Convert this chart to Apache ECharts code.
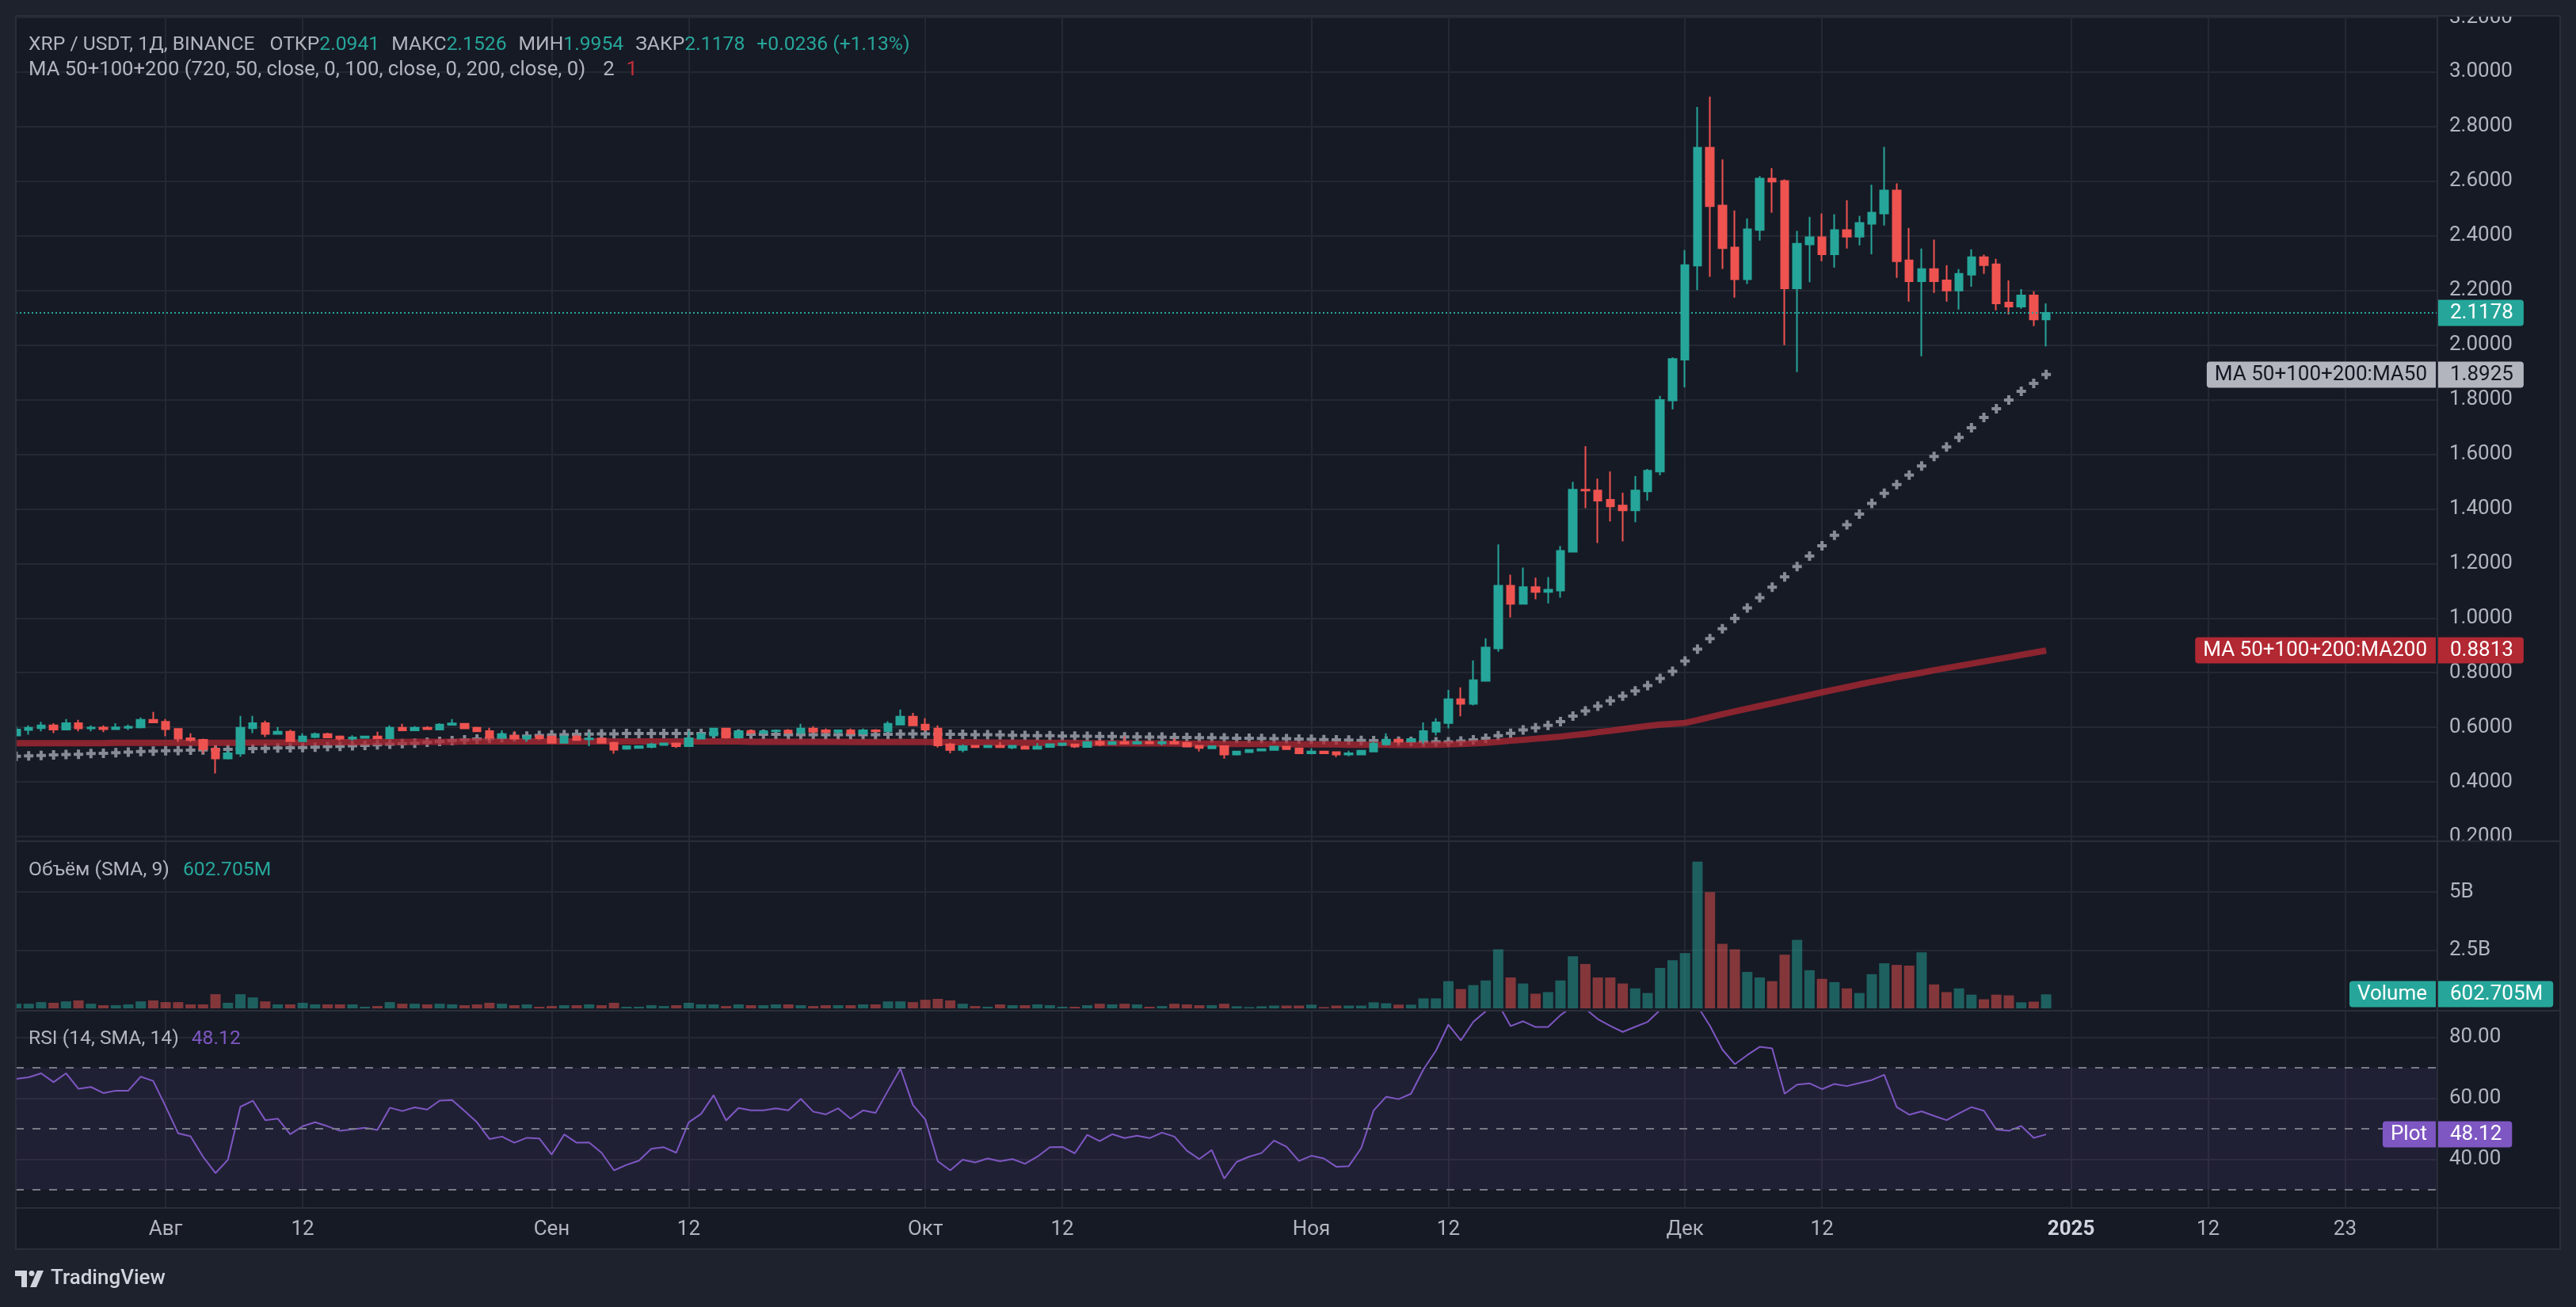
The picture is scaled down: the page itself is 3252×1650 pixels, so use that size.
<!DOCTYPE html>
<html><head><meta charset="utf-8">
<script src="https://cdn.jsdelivr.net/npm/echarts@6/dist/echarts.min.js"></script>
<style>html,body{margin:0;padding:0;background:#1e222d;overflow:hidden}#c{width:3252px;height:1650px}</style>
</head><body><div id="c"></div>
<script>
// ---------- DATA ----------
const startDate = '2024-07-20';
const dayCount = 195; // visible days: 2024-07-20 .. 2025-01-30

// daily candles [open, high, low, close]
const julCandles = [
[0.570,0.603,0.568,0.592],[0.590,0.607,0.573,0.598],[0.597,0.620,0.585,0.607],[0.607,0.615,0.579,0.592],
[0.592,0.630,0.589,0.615],[0.615,0.627,0.585,0.596],[0.596,0.607,0.585,0.599],[0.599,0.607,0.582,0.593],
[0.593,0.615,0.590,0.600],[0.598,0.610,0.590,0.602],[0.600,0.636,0.596,0.627],[0.627,0.656,0.616,0.618]];
const augCandles = [
[0.620,0.630,0.567,0.593],[0.594,0.595,0.547,0.558],[0.560,0.578,0.547,0.553],[0.554,0.558,0.505,0.520],
[0.522,0.532,0.431,0.486],[0.486,0.515,0.482,0.505],[0.504,0.642,0.492,0.598],[0.597,0.642,0.579,0.615],
[0.615,0.624,0.564,0.576],[0.576,0.601,0.574,0.584],[0.584,0.591,0.547,0.549],[0.549,0.578,0.546,0.566],
[0.564,0.581,0.560,0.575],[0.575,0.580,0.560,0.563],[0.566,0.570,0.551,0.558],[0.558,0.571,0.551,0.563],
[0.561,0.569,0.558,0.566],[0.566,0.584,0.556,0.560],[0.560,0.607,0.558,0.598],[0.598,0.613,0.587,0.589],
[0.589,0.604,0.586,0.598],[0.598,0.604,0.591,0.593],[0.592,0.615,0.590,0.610],[0.609,0.630,0.607,0.614],
[0.613,0.613,0.593,0.596],[0.598,0.602,0.582,0.585],[0.586,0.598,0.553,0.563],[0.561,0.589,0.558,0.575],
[0.570,0.586,0.557,0.558],[0.558,0.570,0.547,0.567],[0.568,0.573,0.558,0.560]];
const sepCandles = [
[0.566,0.569,0.540,0.543],[0.543,0.567,0.541,0.566],[0.566,0.572,0.552,0.553],[0.556,0.581,0.531,0.559],
[0.559,0.560,0.541,0.543],[0.543,0.547,0.503,0.518],[0.521,0.532,0.518,0.531],[0.524,0.532,0.521,0.531],
[0.528,0.543,0.523,0.537],[0.535,0.544,0.532,0.541],[0.541,0.543,0.524,0.531],[0.531,0.586,0.530,0.560],
[0.558,0.581,0.556,0.575],[0.570,0.598,0.563,0.595],[0.595,0.598,0.560,0.563],[0.563,0.589,0.560,0.586],
[0.587,0.592,0.576,0.580],[0.580,0.588,0.575,0.586],[0.586,0.590,0.580,0.588],[0.588,0.593,0.578,0.580],
[0.580,0.613,0.576,0.595],[0.595,0.604,0.579,0.584],[0.589,0.595,0.578,0.582],[0.582,0.591,0.576,0.589],
[0.589,0.595,0.574,0.577],[0.577,0.595,0.574,0.589],[0.589,0.593,0.582,0.585],[0.585,0.622,0.583,0.613],
[0.610,0.665,0.608,0.639],[0.639,0.653,0.607,0.607]];
const octCandles = [
[0.610,0.633,0.586,0.592],[0.595,0.607,0.526,0.534],[0.537,0.543,0.505,0.517],[0.517,0.537,0.508,0.531],
[0.532,0.534,0.525,0.527],[0.527,0.534,0.526,0.532],[0.532,0.546,0.526,0.527],[0.526,0.535,0.520,0.532],
[0.529,0.534,0.520,0.521],[0.521,0.542,0.520,0.529],[0.528,0.541,0.526,0.538],[0.535,0.544,0.531,0.541],
[0.537,0.539,0.524,0.529],[0.528,0.549,0.526,0.546],[0.547,0.553,0.531,0.537],[0.538,0.549,0.536,0.546],
[0.546,0.566,0.538,0.540],[0.540,0.552,0.537,0.546],[0.546,0.549,0.539,0.541],[0.541,0.551,0.534,0.546],
[0.546,0.560,0.538,0.540],[0.543,0.546,0.528,0.529],[0.532,0.535,0.511,0.524],[0.523,0.533,0.522,0.531],
[0.531,0.534,0.485,0.500],[0.500,0.514,0.497,0.511],[0.509,0.518,0.508,0.517],[0.515,0.522,0.512,0.520],
[0.517,0.530,0.516,0.529],[0.529,0.531,0.517,0.520],[0.523,0.525,0.502,0.505]];
const novCandles = [
[0.505,0.523,0.501,0.511],[0.511,0.513,0.503,0.505],[0.509,0.512,0.491,0.500],[0.500,0.514,0.494,0.505],
[0.500,0.517,0.499,0.514],[0.511,0.547,0.511,0.540],[0.537,0.578,0.537,0.555],[0.555,0.560,0.540,0.549],
[0.549,0.560,0.546,0.557],[0.555,0.618,0.540,0.586],[0.584,0.633,0.570,0.618],[0.616,0.737,0.596,0.703],
[0.703,0.746,0.640,0.686],[0.686,0.845,0.680,0.772],[0.770,0.926,0.770,0.892],[0.889,1.270,0.877,1.118],
[1.118,1.159,1.002,1.052],[1.052,1.185,1.050,1.113],[1.113,1.148,1.069,1.096],[1.096,1.150,1.054,1.104],
[1.101,1.264,1.075,1.246],[1.243,1.499,1.243,1.470],[1.470,1.630,1.403,1.467],[1.467,1.511,1.275,1.430],
[1.433,1.537,1.354,1.409],[1.412,1.459,1.281,1.395],[1.395,1.520,1.351,1.467],[1.464,1.546,1.430,1.540],
[1.537,1.814,1.523,1.799],[1.797,1.955,1.765,1.949]];
const decCandles = [
[1.947,2.348,1.845,2.293],[2.291,2.872,2.201,2.723],[2.723,2.910,2.250,2.509],[2.511,2.680,2.279,2.355],
[2.357,2.493,2.174,2.241],[2.241,2.464,2.224,2.424],[2.422,2.619,2.383,2.610],[2.610,2.648,2.485,2.599],
[2.601,2.607,2.000,2.208],[2.208,2.418,1.901,2.371],[2.369,2.470,2.230,2.395],[2.395,2.482,2.307,2.333],
[2.333,2.479,2.284,2.421],[2.421,2.531,2.354,2.397],[2.397,2.473,2.365,2.447],[2.444,2.587,2.333,2.485],
[2.482,2.726,2.438,2.566],[2.566,2.592,2.246,2.307],[2.310,2.429,2.159,2.234],[2.234,2.354,1.959,2.278],
[2.278,2.386,2.191,2.234],[2.237,2.293,2.159,2.200],[2.200,2.278,2.130,2.261],[2.258,2.351,2.214,2.322],
[2.322,2.331,2.261,2.293],[2.296,2.316,2.127,2.153],[2.156,2.237,2.112,2.141],[2.141,2.205,2.133,2.182],
[2.182,2.197,2.069,2.0942],[2.0941,2.1526,1.9954,2.1178]];

// volume, billions
const julVolume = [0.20,0.20,0.27,0.24,0.30,0.34,0.20,0.135,0.135,0.17,0.30,0.34];
const augVolume = [0.27,0.27,0.17,0.17,0.61,0.24,0.61,0.47,0.30,0.17,0.17,0.24,0.17,0.17,0.17,0.17,0.07,0.10,0.27,0.20,0.20,0.17,0.20,0.17,0.135,0.17,0.24,0.20,0.135,0.17,0.07];
const sepVolume = [0.10,0.135,0.135,0.17,0.135,0.24,0.07,0.07,0.135,0.10,0.135,0.24,0.17,0.17,0.10,0.17,0.135,0.135,0.17,0.17,0.135,0.10,0.135,0.135,0.135,0.17,0.17,0.30,0.30,0.27];
const octVolume = [0.37,0.41,0.34,0.20,0.10,0.07,0.17,0.135,0.135,0.17,0.135,0.07,0.07,0.135,0.20,0.17,0.20,0.17,0.07,0.10,0.20,0.17,0.135,0.135,0.20,0.09,0.056,0.09,0.12,0.12,0.12];
const novVolume = [0.16,0.056,0.12,0.12,0.12,0.26,0.22,0.16,0.16,0.43,0.43,1.17,0.83,1.00,1.20,2.54,1.33,1.07,0.63,0.70,1.20,2.24,1.91,1.33,1.33,1.07,0.86,0.66,1.74,2.07];
const decVolume = [2.38,6.31,5.00,2.78,2.54,1.57,1.33,1.17,2.31,2.95,1.64,1.27,1.13,0.86,0.66,1.47,1.94,1.87,1.84,2.41,1.03,0.70,0.86,0.59,0.39,0.59,0.56,0.26,0.29,0.602705];

// RSI(14)
const julRsi = [66.4,66.9,68.2,65.3,68.2,63.1,63.7,61.7,62.5,62.5,67.1,65.7];
const augRsi = [57.3,48.5,47.5,40.8,35.4,39.8,57.2,59.2,52.8,53.3,48.2,50.8,52.1,50.8,49.3,49.8,50.3,49.6,56.9,55.8,57.0,56.3,59.2,59.4,55.8,52.1,46.6,47.4,45.4,47.0,46.8];
const sepRsi = [41.5,48.1,45.4,45.5,42.1,36.3,38.1,39.5,43.4,43.9,42.1,52.1,54.9,61.0,52.7,56.8,56.0,56.0,56.7,56.0,59.8,55.6,54.7,56.7,53.3,56.0,55.2,62.5,69.7,57.8];
const octRsi = [53.0,39.3,36.3,39.8,38.9,40.2,39.3,40.0,38.5,40.8,43.9,44.0,41.9,48.0,45.9,48.2,46.9,47.7,46.9,48.7,47.4,42.8,40.0,43.0,33.6,39.1,40.8,42.0,46.1,44.1,39.4];
const novRsi = [41.1,40.2,37.5,37.7,43.6,56.0,60.5,59.7,61.5,69.5,75.6,84.2,79.0,85.1,88.6,91.0,83.7,85.3,83.4,83.4,87.3,90.3,89.4,86.0,83.8,81.8,83.5,85.1,89.0,92.0];
const decRsi = [93.0,90.3,83.8,76.0,71.2,74.2,76.9,76.4,61.5,64.5,64.9,63.0,64.7,64.0,65.0,66.0,67.7,57.1,54.6,55.7,54.2,52.8,55.0,57.1,55.9,49.7,49.3,50.9,47.0,48.12];

// MA50 (crosses)
const julMa50 = [0.494,0.495,0.497,0.499,0.500,0.501,0.504,0.505,0.507,0.509,0.511,0.513];
const augMa50 = [0.514,0.515,0.516,0.517,0.518,0.519,0.521,0.522,0.523,0.524,0.525,0.526,0.527,0.529,0.530,0.532,0.534,0.536,0.538,0.540,0.542,0.545,0.548,0.551,0.554,0.557,0.559,0.562,0.565,0.568,0.570];
const sepMa50 = [0.572,0.573,0.574,0.575,0.576,0.576,0.577,0.577,0.577,0.577,0.577,0.577,0.577,0.577,0.576,0.575,0.574,0.574,0.574,0.573,0.573,0.573,0.573,0.573,0.573,0.573,0.573,0.574,0.575,0.576];
const octMa50 = [0.576,0.575,0.574,0.574,0.573,0.573,0.572,0.571,0.570,0.569,0.569,0.568,0.568,0.567,0.566,0.566,0.565,0.565,0.564,0.564,0.563,0.563,0.562,0.562,0.561,0.560,0.560,0.559,0.558,0.558,0.557];
const novMa50 = [0.556,0.555,0.554,0.553,0.552,0.551,0.550,0.549,0.548,0.547,0.547,0.547,0.550,0.554,0.560,0.569,0.578,0.590,0.598,0.607,0.621,0.641,0.660,0.677,0.697,0.714,0.733,0.753,0.779,0.805];
const decMa50 = [0.843,0.886,0.925,0.961,0.999,1.037,1.075,1.113,1.151,1.189,1.227,1.265,1.303,1.342,1.381,1.420,1.457,1.489,1.524,1.557,1.592,1.627,1.662,1.697,1.735,1.767,1.799,1.831,1.860,1.8925];

// MA200 (thick red line)
const julMa200 = [0.542,0.542,0.542,0.542,0.542,0.542,0.542,0.542,0.543,0.543,0.543,0.543];
const augMa200 = [0.543,0.543,0.543,0.543,0.543,0.543,0.543,0.544,0.544,0.544,0.544,0.544,0.545,0.545,0.545,0.545,0.546,0.546,0.546,0.546,0.547,0.547,0.547,0.547,0.548,0.548,0.548,0.548,0.548,0.548,0.548];
const sepMa200 = [0.548,0.548,0.548,0.548,0.548,0.548,0.548,0.548,0.548,0.548,0.548,0.548,0.548,0.548,0.548,0.548,0.547,0.547,0.547,0.547,0.547,0.547,0.547,0.547,0.546,0.546,0.546,0.546,0.546,0.546];
const octMa200 = [0.546,0.545,0.545,0.545,0.545,0.544,0.544,0.544,0.544,0.543,0.543,0.543,0.543,0.542,0.542,0.542,0.541,0.541,0.541,0.541,0.540,0.540,0.540,0.540,0.539,0.539,0.539,0.539,0.538,0.538,0.538];
const novMa200 = [0.537,0.537,0.537,0.536,0.536,0.536,0.536,0.535,0.535,0.535,0.536,0.537,0.539,0.541,0.543,0.547,0.551,0.554,0.558,0.562,0.566,0.571,0.576,0.582,0.587,0.593,0.599,0.605,0.610,0.613];
const decMa200 = [0.616,0.626,0.637,0.648,0.658,0.668,0.678,0.688,0.698,0.708,0.718,0.728,0.738,0.747,0.757,0.766,0.775,0.784,0.792,0.800,0.809,0.817,0.825,0.833,0.841,0.849,0.857,0.865,0.873,0.8813];

// axis ticks
const timeTickDates = ['2024-08-01','2024-08-12','2024-09-01','2024-09-12','2024-10-01','2024-10-12','2024-11-01','2024-11-12','2024-12-01','2024-12-12','2025-01-01','2025-01-12','2025-01-23'];
const timeTickLabels = ['Авг','12','Сен','12','Окт','12','Ноя','12','Дек','12','2025','12','23'];
const priceTicks = [0.2,0.4,0.6,0.8,1.0,1.2,1.4,1.6,1.8,2.0,2.2,2.4,2.6,2.8,3.0,3.2];
const volumeTicks = [2.5,5];
const rsiTicks = [40,60,80];
const rsiLevels = [70,50,30];
const rsiBand = [30,70];

// ---------- BUILD ----------
const candles = [].concat(julCandles,augCandles,sepCandles,octCandles,novCandles,decCandles);
const volumes = [].concat(julVolume,augVolume,sepVolume,octVolume,novVolume,decVolume);
const rsi = [].concat(julRsi,augRsi,sepRsi,octRsi,novRsi,decRsi);
const ma50 = [].concat(julMa50,augMa50,sepMa50,octMa50,novMa50,decMa50);
const ma200 = [].concat(julMa200,augMa200,sepMa200,octMa200,novMa200,decMa200);

const DAY = 86400000;
const t0 = Date.parse(startDate + 'T00:00:00Z');
const dayIdx = d => Math.round((Date.parse(d + 'T00:00:00Z') - t0) / DAY);
const timeTickIdx = timeTickDates.map(dayIdx);

const FONT = 'Roboto, "Liberation Sans", sans-serif';
const TXT = '#b2b5be';
const GRIDC = '#242833';
const PANE = '#161a25';
const OUTER = '#1e222d';
const SEP = '#2a2e39';
const UP = '#26a69a', DOWN = '#ef5350';
const UPV = 'rgba(38,166,154,0.5)', DOWNV = 'rgba(239,83,80,0.5)';
const AXF = 26;

const candleData = candles.map((k,i) => [i, k[0], k[3], k[2], k[1]]);
const volData = volumes.map((v,i) => ({value:[i,v], itemStyle:{color: candles[i][3] >= candles[i][0] ? UPV : DOWNV}}));
const rsiData = rsi.map((v,i) => [i,v]);
const ma50Data = ma50.map((v,i) => [i,v]);
const ma200Data = ma200.map((v,i) => [i,v]);

const last = candles[candles.length-1], prev = candles[candles.length-2];
const lastClose = last[3];
const chg = lastClose - prev[3];
const chgPct = chg / prev[3] * 100;
const lastVol = volumes[volumes.length-1];
const lastRsi = rsi[rsi.length-1];
const lastMa50 = ma50[ma50.length-1];
const lastMa200 = ma200[ma200.length-1];

const X_MIN = -0.03, X_MAX = 194.35;
const GL = 20, GR = 176;

function xAxis(gi, showLabel) {
  return {
    type:'value', gridIndex: gi, min: X_MIN, max: X_MAX,
    axisLine:{show:false}, axisTick:{show:false, customValues: timeTickIdx},
    splitLine:{show:true, lineStyle:{color:GRIDC, width:2}},
    axisLabel:{show: showLabel, customValues: timeTickIdx, margin: 15, color: TXT, fontSize: AXF, fontFamily: FONT,
      formatter: v => { const k = timeTickIdx.indexOf(Math.round(v)); const s = timeTickLabels[k] || ''; return s === '2025' ? '{b|2025}' : s; },
      rich:{b:{fontWeight:'bold', color:'#d1d4dc', fontSize:AXF, fontFamily: FONT}}}
  };
}
function yAxis(gi, min, max, ticks, fmt) {
  return {
    type:'value', gridIndex: gi, position:'right', min, max,
    axisLine:{show:false}, axisTick:{show:false, customValues: ticks},
    splitLine:{show:true, lineStyle:{color:GRIDC, width:2}},
    axisLabel:{customValues: ticks, formatter: fmt, margin: 16, color: TXT, fontSize: AXF, fontFamily: FONT}
  };
}

const chart = echarts.init(document.getElementById('c'), null, {renderer:'canvas'});
chart.setOption({
  animation:false,
  backgroundColor: PANE,
  textStyle:{fontFamily: FONT},
  grid:[
    {left:GL, right:GR, top:20, height:1041},
    {left:GL, right:GR, top:1063, height:210},
    {left:GL, right:GR, top:1277, height:247}
  ],
  xAxis:[xAxis(0,false), xAxis(1,false), xAxis(2,true)],
  yAxis:[
    yAxis(0, 0.1855, 3.206, priceTicks, v => v.toFixed(4)),
    yAxis(1, 0, 7.155, volumeTicks, v => v + 'B'),
    yAxis(2, 24.2, 88.5, rsiTicks, v => v.toFixed(2))
  ],
  series:[
    {type:'scatter', name:'MA50', xAxisIndex:0, yAxisIndex:0, data: ma50Data, z:2, silent:true,
     symbol:'path://M4,0H8V4H12V8H8V12H4V8H0V4H4Z', symbolSize:12, itemStyle:{color:'#878b96', opacity:1}},
    {type:'line', name:'MA200', xAxisIndex:0, yAxisIndex:0, data: ma200Data, z:3, silent:true,
     showSymbol:false, lineStyle:{color:'rgba(178,40,51,0.75)', width:8}},
    {type:'candlestick', name:'XRP', xAxisIndex:0, yAxisIndex:0, data: candleData, z:4, silent:true,
     barWidth:10,
     itemStyle:{color:UP, color0:DOWN, borderColor:UP, borderColor0:DOWN, borderWidth:2},
     markLine:{silent:true, symbol:'none', label:{show:false},
       lineStyle:{color:UP, type:[2,3], width:2}, data:[{yAxis:lastClose}]}},
    {type:'bar', name:'Volume', xAxisIndex:1, yAxisIndex:1, data: volData, barWidth:13, silent:true},
    {type:'line', name:'RSI', xAxisIndex:2, yAxisIndex:2, data: rsiData, silent:true, showSymbol:false,
     lineStyle:{color:'#7e57c2', width:2},
     markArea:{silent:true, itemStyle:{color:'rgba(126,87,194,0.1)'}, data:[[{yAxis:rsiBand[0]},{yAxis:rsiBand[1]}]]},
     markLine:{silent:true, symbol:'none', label:{show:false},
       lineStyle:{color:'#787b86', type:[10,11], width:2}, data: rsiLevels.map(v => ({yAxis:v}))}}
  ]
});

// ---------- OVERLAYS (text, tags, frame) ----------
const py = v => chart.convertToPixel({yAxisIndex:0}, v);
const vy = v => chart.convertToPixel({yAxisIndex:1}, v);
const ry = v => chart.convertToPixel({yAxisIndex:2}, v);
const TAGF = '26px ' + FONT;
function tagL(x, yc, text, bg, fg) {
  return {type:'text', x, y: Math.round(yc), z:210, silent:true,
    style:{text, fill:fg, font:TAGF, align:'left', verticalAlign:'middle', backgroundColor:bg,
      padding:[4,13,3,15], borderRadius:[0,4,4,0], lineHeight:26}};
}
function tagR(x, yc, text, bg, fg) {
  return {type:'text', x, y: Math.round(yc), z:210, silent:true,
    style:{text, fill:fg, font:TAGF, align:'right', verticalAlign:'middle', backgroundColor:bg,
      padding:[4,11,3,10], borderRadius:[4,0,0,4], lineHeight:26}};
}
function rt(fill, size, extra) { return Object.assign({fill, fontSize:size, fontFamily:FONT}, extra||{}); }
const L1 = 24.7, L2 = 25.7;
const sign = chg >= 0 ? '+' : '';
const g = [];
// frame strips
g.push({type:'rect', z:150, silent:true, shape:{x:0,y:0,width:3252,height:19}, style:{fill:OUTER}});
g.push({type:'rect', z:150, silent:true, shape:{x:0,y:0,width:19,height:1650}, style:{fill:OUTER}});
g.push({type:'rect', z:150, silent:true, shape:{x:3233,y:0,width:19,height:1650}, style:{fill:OUTER}});
g.push({type:'rect', z:150, silent:true, shape:{x:0,y:1578,width:3252,height:72}, style:{fill:OUTER}});
// clip bottom price label
g.push({type:'rect', z:150, silent:true, shape:{x:3078,y:1063,width:155,height:14}, style:{fill:PANE}});
// separators
[1062,1276,1525].forEach(y => g.push({type:'line', z:160, silent:true, shape:{x1:20,y1:y,x2:3232,y2:y}, style:{stroke:SEP, lineWidth:2}}));
g.push({type:'line', z:160, silent:true, shape:{x1:3077,y1:20,x2:3077,y2:1577}, style:{stroke:SEP, lineWidth:2}});
g.push({type:'rect', z:160, silent:true, shape:{x:20,y:20,width:3212,height:1557}, style:{fill:'none', stroke:SEP, lineWidth:2}});
// legends
g.push({type:'text', x:36, y:57, z:200, silent:true, style:{
  text:'{n|XRP / USDT, 1Д, BINANCE}{g1|ОТКР}{v|' + last[0].toFixed(4) + '}{g|МАКС}{v|' + last[1].toFixed(4) +
       '}{g|МИН}{v|' + last[2].toFixed(4) + '}{g|ЗАКР}{v|' + last[3].toFixed(4) + '}{gv|' + sign + chg.toFixed(4) +
       ' (' + sign + chgPct.toFixed(2) + '%)}',
  verticalAlign:'middle', align:'left',
  rich:{n:rt(TXT,L1), g1:rt(TXT,L1,{padding:[0,0,0,19]}), g:rt(TXT,L1,{padding:[0,0,0,15]}), v:rt(UP,L1), gv:rt(UP,L1,{padding:[0,0,0,15]})}}});
g.push({type:'text', x:36, y:89, z:200, silent:true, style:{
  text:'{n|MA 50+100+200 (720, 50, close, 0, 100, close, 0, 200, close, 0)}{t|2}{r|1}',
  verticalAlign:'middle', align:'left',
  rich:{n:rt(TXT,L2), t:rt(TXT,L2,{padding:[0,0,0,22]}), r:rt('#c42f3a',L2,{padding:[0,0,0,15]})}}});
g.push({type:'text', x:36, y:1099, z:200, silent:true, style:{
  text:'{n|Объём (SMA, 9)}{v|' + (lastVol*1000).toFixed(3) + 'M}',
  verticalAlign:'middle', align:'left', rich:{n:rt(TXT,L1), v:rt(UP,L1,{padding:[0,0,0,17]})}}});
g.push({type:'text', x:36, y:1312, z:200, silent:true, style:{
  text:'{n|RSI (14, SMA, 14)}{v|' + lastRsi.toFixed(2) + '}',
  verticalAlign:'middle', align:'left', rich:{n:rt(TXT,L1), v:rt('#7e57c2',L1,{padding:[0,0,0,16]})}}});
// right tags
g.push(tagL(3078, py(lastClose), lastClose.toFixed(4), UP, '#ffffff'));
g.push(tagR(3075, py(lastMa50), 'MA 50+100+200:MA50', '#b2b5be', '#131722'));
g.push(tagL(3078, py(lastMa50), lastMa50.toFixed(4), '#b2b5be', '#131722'));
g.push(tagR(3075, py(lastMa200), 'MA 50+100+200:MA200', '#b22833', '#ffffff'));
g.push(tagL(3078, py(lastMa200), lastMa200.toFixed(4), '#b22833', '#ffffff'));
g.push(tagR(3075, vy(lastVol), 'Volume', UP, '#ffffff'));
g.push(tagL(3078, vy(lastVol), (lastVol*1000).toFixed(3) + 'M', UP, '#ffffff'));
g.push(tagR(3075, ry(lastRsi), 'Plot', '#7e57c2', '#ffffff'));
g.push(tagL(3078, ry(lastRsi), lastRsi.toFixed(2), '#7e57c2', '#ffffff'));
// TradingView logo
g.push({type:'polygon', z:200, silent:true, shape:{points:[[19,1604],[34,1604],[34,1625],[27,1625],[27,1611],[19,1611]]}, style:{fill:'#d1d4dc'}});
g.push({type:'circle', z:200, silent:true, shape:{cx:40,cy:1607.5,r:3.5}, style:{fill:'#d1d4dc'}});
g.push({type:'polygon', z:200, silent:true, shape:{points:[[47,1604],[55,1604],[46,1625],[38,1625]]}, style:{fill:'#d1d4dc'}});
g.push({type:'text', x:64, y:1614, z:200, silent:true, style:{text:'TradingView', fill:'#d1d4dc', font:'500 26px ' + FONT, align:'left', verticalAlign:'middle'}});

chart.setOption({graphic: g});
</script>
</body></html>
